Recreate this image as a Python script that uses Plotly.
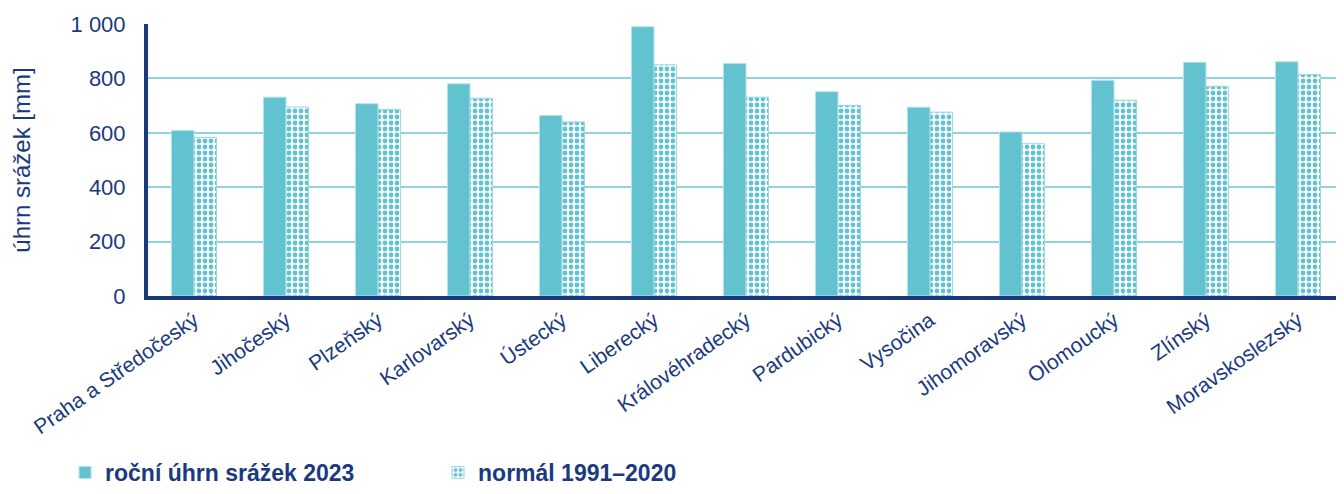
import plotly.graph_objects as go

categories = ["Praha a Středočeský", "Jihočeský", "Plzeňský", "Karlovarský", "Ústecký",
              "Liberecký", "Královéhradecký", "Pardubický", "Vysočina", "Jihomoravský",
              "Olomoucký", "Zlínský", "Moravskoslezský"]
rain_2023 = [608, 731, 707, 780, 664, 990, 855, 751, 694, 603, 793, 859, 861]
normal_1991_2020 = [583, 695, 686, 727, 640, 850, 731, 701, 676, 560, 720, 771, 814]
y_ticks = [0, 200, 400, 600, 800, 1000]
y_ticklabels = ["0", "200", "400", "600", "800", "1 000"]

NAVY = "#1b3a7e"
TEAL = "#62c2d0"
GRID = "#8fd3de"
FONT = "Liberation Sans"

fig = go.Figure()
fig.add_trace(go.Bar(
    x=categories, y=rain_2023, name="roční úhrn srážek 2023",
    marker=dict(color=TEAL, line=dict(color="#b5e2e9", width=1)),
))
fig.add_trace(go.Bar(
    x=categories, y=normal_1991_2020, name="normál 1991–2020",
    marker=dict(color="white", line=dict(color="#9fd8e1", width=1),
                pattern=dict(shape=".", fgcolor=TEAL, bgcolor="white",
                             fillmode="replace", size=6, solidity=0.5)),
))

# page body has an 8px margin, so the figure is offset by 8px
fig.update_layout(
    width=1336, height=486,
    margin=dict(l=140, r=0, t=16, b=198, autoexpand=False),
    paper_bgcolor="white", plot_bgcolor="white",
    barmode="group", bargap=0.51, bargroupgap=0,
    font=dict(family=FONT, color=NAVY),
    showlegend=True,
    legend=dict(orientation="h", xref="container", yref="container",
                x=0.0427, y=-0.012, xanchor="left", yanchor="bottom",
                borderwidth=0, tracegroupgap=0,
                font=dict(size=23, color=NAVY, family=FONT, weight="bold"),
                entrywidth=328, itemwidth=30, traceorder="normal"),
    xaxis=dict(showline=True, linecolor=NAVY, linewidth=4, ticks="",
               tickangle=-35, tickfont=dict(size=21, color=NAVY),
               showgrid=False, range=[-0.5, 12.5], automargin=False),
    yaxis=dict(showline=True, linecolor=NAVY, linewidth=4, ticks="",
               range=[0, 1000], tickvals=y_ticks, ticktext=y_ticklabels,
               tickfont=dict(size=22, color=NAVY), showgrid=True,
               gridcolor=GRID, gridwidth=1.5, zeroline=False,
               ticklabelstandoff=14, automargin=False,
               title=dict(text="úhrn srážek [mm]", font=dict(size=24, color=NAVY), standoff=36)),
)

fig.write_html("out.html")
